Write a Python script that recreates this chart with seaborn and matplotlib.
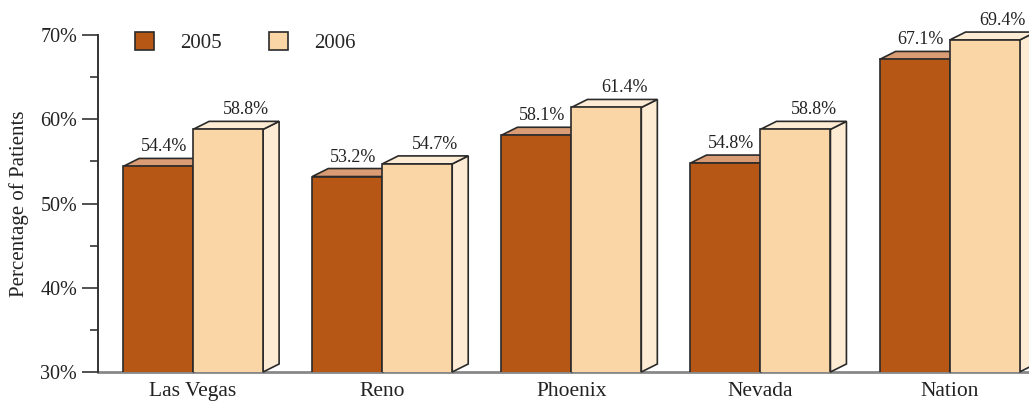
import matplotlib
matplotlib.use("Agg")
import matplotlib.pyplot as plt
from matplotlib.patches import Polygon, Patch
from matplotlib.ticker import MultipleLocator, FuncFormatter
import seaborn as sns
import pandas as pd

# ---- data ----
categories = ["Las Vegas", "Reno", "Phoenix", "Nevada", "Nation"]
years = ["2005", "2006"]
values_2005 = [54.4, 53.2, 58.1, 54.8, 67.1]
values_2006 = [58.8, 54.7, 61.4, 58.8, 69.4]

front_colors = {"2005": "#B75716", "2006": "#FAD6A7"}
top_colors = {"2005": "#D99C74", "2006": "#FDEBD3"}
side_colors = {"2005": "#9C4812", "2006": "#FDEAD2"}
edge = "#2A2A2A"

df = pd.DataFrame({
    "Category": categories * 2,
    "Year": ["2005"] * len(categories) + ["2006"] * len(categories),
    "Value": values_2005 + values_2006,
})

sns.set_style("white")
plt.rcParams["font.family"] = ["Liberation Serif", "DejaVu Serif"]

W, H = 1029, 404
fig = plt.figure(figsize=(W / 100, H / 100), dpi=100)
ax = fig.add_axes([98 / W, 1 - 372 / H, 1 - 98 / W, (372 - 35) / H])

sns.barplot(data=df, x="Category", y="Value", hue="Year", hue_order=years,
            palette=front_colors, width=0.74, gap=0, saturation=1,
            edgecolor=edge, linewidth=1.2, legend=False, ax=ax)

ax.set_ylim(30, 70)
ax.set_xlim(-0.503, 4.42)

# 3D depth in data units
DX = 16 / 189
DY = 8 / 337 * 40
BASE = 30

label_dx = {"2005": 6, "2006": 18}
for i, (year, cont) in enumerate(zip(years, ax.containers)):
    z = 2 + 2 * i
    for bar in cont:
        bar.set_zorder(z + 1)
        x0 = bar.get_x()
        w = bar.get_width()
        h = bar.get_height()
        x1 = x0 + w
        top = Polygon([(x0, h), (x0 + DX, h + DY), (x1 + DX, h + DY), (x1, h)],
                      closed=True, facecolor=top_colors[year], edgecolor=edge,
                      linewidth=1.2, clip_on=False, zorder=z)
        side = Polygon([(x1, BASE), (x1 + DX, BASE + DY), (x1 + DX, h + DY), (x1, h)],
                       closed=True, facecolor=side_colors[year] if year == "2005" else top_colors[year],
                       edgecolor=edge, linewidth=1.2, clip_on=False, zorder=z)
        ax.add_patch(side)
        ax.add_patch(top)
        ax.annotate(f"{h:.1f}%", xy=(x0 + w / 2, h), xytext=(label_dx[year], 15),
                    textcoords="offset pixels", ha="center", va="baseline",
                    fontsize=13, color="#222222", annotation_clip=False, zorder=10)

# axes styling
for s in ["top", "right"]:
    ax.spines[s].set_visible(False)
ax.spines["left"].set_color("#333333")
ax.spines["left"].set_linewidth(1.4)
ax.spines["bottom"].set_color("#888888")
ax.spines["bottom"].set_linewidth(2)
ax.spines["bottom"].set_zorder(1)

ax.yaxis.set_major_locator(MultipleLocator(10))
ax.yaxis.set_minor_locator(MultipleLocator(5))
ax.yaxis.set_major_formatter(FuncFormatter(lambda v, p: f"{v:.0f}%"))
ax.tick_params(axis="y", which="major", direction="out", length=11.5, width=1.2,
               color="#333333", labelsize=14.5, pad=3.5, labelcolor="#222222", left=True)
ax.tick_params(axis="y", which="minor", direction="out", length=5.8, width=1.2,
               color="#333333", left=True)
ax.tick_params(axis="x", length=0, labelsize=15.5, pad=7, labelcolor="#222222")
ax.set_xlabel("")
ax.set_ylabel("Percentage of Patients", fontsize=15, color="#222222", labelpad=8)
ax.grid(False)

handles = [Patch(facecolor=front_colors[y], edgecolor=edge, linewidth=1.2) for y in years]
ax.legend(handles, years, loc="upper left", bbox_to_anchor=(135 / W, 1 - 32 / H),
          bbox_transform=fig.transFigure, ncol=2, frameon=False, fontsize=15,
          handlelength=0.92, handleheight=0.92, handletextpad=1.25,
          columnspacing=2.25, borderpad=0, borderaxespad=0)

fig.savefig("out.png", dpi=100)
